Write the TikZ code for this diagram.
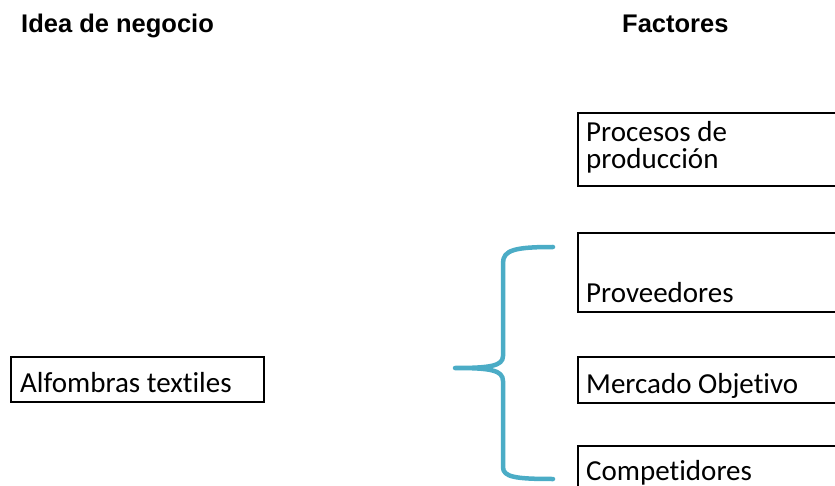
\documentclass[tikz,border=0pt]{standalone}
\usepackage{fontspec}
\setmainfont[Ligatures={NoCommon}]{Carlito}
\newfontfamily\headfont{Liberation Sans}
\definecolor{bracecol}{HTML}{4BACC6}
\begin{document}
\begin{tikzpicture}[x=1pt,y=-1pt,
  box/.style={draw=black,line width=2pt,inner sep=0pt,anchor=north west},
  label/.style={anchor=base west,inner sep=0pt,font=\fontsize{29}{29}\selectfont},
  head/.style={anchor=base west,inner sep=0pt,font=\headfont\bfseries\fontsize{25.5}{25.5}\selectfont},
  brace/.style={draw=bracecol,line width=4.5pt,line cap=round,line join=round}]
\useasboundingbox (0,0) rectangle (835,486);
\clip (0,0) rectangle (835,486);

% column headings
\node[head] (h1) at (21,33) {Idea de negocio};
\node[head] (h2) at (622,33) {Factores};

% business idea
\node[box,minimum width=253pt,minimum height=45pt] (idea) at (10,356) {};
\node[label] (ideatxt) at (20,392) {Alfombras textiles};

% factor boxes (running past the right edge)
\node[box,minimum width=300pt,minimum height=73pt] (f1) at (577,112) {};
\node[label] (f1a) at (586,142) {Procesos de};
\node[label] (f1b) at (586,169) {producción};

\node[box,minimum width=300pt,minimum height=79pt] (f2) at (577,232) {};
\node[label] (f2t) at (586,302) {Proveedores};

\node[box,minimum width=300pt,minimum height=46pt] (f3) at (577,356) {};
\node[label] (f3t) at (586,393) {Mercado Objetivo};

\node[box,minimum width=300pt,minimum height=80pt] (f4) at (577,445) {};
\node[label] (f4t) at (586,480) {Competidores};

% curly brace joining the idea to the factors
\coordinate (btop) at (553,247);
\coordinate (btip) at (455,368);
\coordinate (bbot) at (553,479);
\draw[brace] (btop) .. controls (515,247) and (503,250) .. (503,263)
  -- (503,356) .. controls (503,366) and (490,368) .. (btip)
  .. controls (490,368) and (503,370) .. (503,381)
  -- (503,467) .. controls (503,477) and (515,479) .. (bbot);
\end{tikzpicture}
\end{document}
